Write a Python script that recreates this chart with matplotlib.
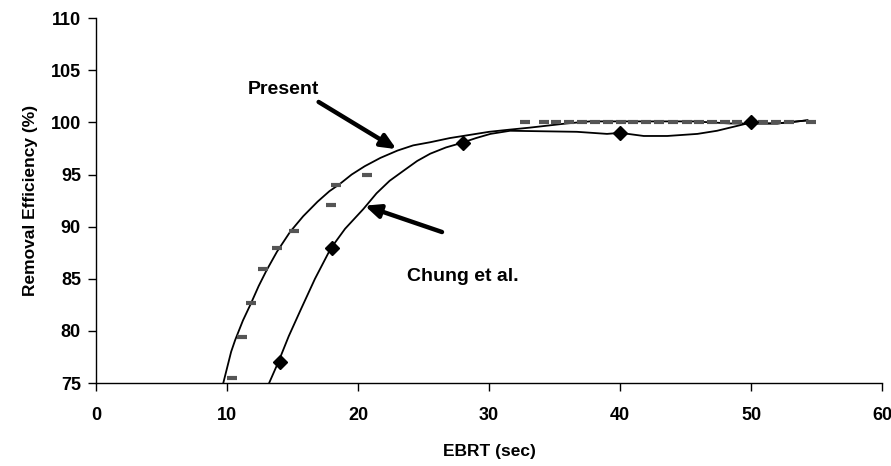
import matplotlib.pyplot as plt
import numpy as np

plt.rcParams['font.family'] = ['Liberation Sans', 'DejaVu Sans']

# experimental data (present study) - grey dashes
exp_x = [10.4, 11.1, 11.8, 12.7, 13.8, 15.1, 17.9, 18.3, 20.7,
         32.7, 34.2, 35.1, 36.1, 37.1, 38.1, 39.1, 40.1, 41.0, 42.0, 43.0,
         44.0, 45.1, 46.0, 47.0, 48.0, 48.9, 50.0, 50.9, 51.9, 52.9, 54.6]
exp_y = [75.5, 79.4, 82.7, 85.9, 88.0, 89.6, 92.1, 94.0, 95.0] + [100.0] * 22

# Chung et al. data - diamonds
chung_x = [14, 18, 28, 40, 50]
chung_y = [77, 88, 98, 99, 100]

# model curves
present_x = [9.7, 10.0, 10.3, 10.6, 11.2, 11.8, 12.4, 13.0, 13.8, 14.8, 15.8,
             16.9, 17.8, 18.6, 19.5, 20.5, 21.7, 23.0, 24.2, 25.5, 27.0, 28.5,
             30.0, 31.5, 33.1, 34.5, 35.9, 37.7, 45.6, 48.4, 50.0, 52.0, 54.3]
present_y = [75.0, 76.5, 78.0, 79.1, 81.0, 82.6, 84.3, 85.8, 87.6, 89.5, 91.0,
             92.4, 93.4, 94.1, 95.0, 95.8, 96.6, 97.3, 97.8, 98.1, 98.5, 98.8,
             99.1, 99.3, 99.5, 99.7, 99.9, 100.1, 100.1, 99.9, 99.9, 99.9, 100.2]

chung_line_x = [13.2, 13.9, 14.7, 15.6, 16.7, 17.9, 19.0, 20.4, 21.4, 22.4, 23.5,
                24.5, 25.5, 26.7, 27.8, 29.0, 30.1, 31.6, 36.7, 39.0, 40.0, 41.8,
                43.6, 45.9, 47.4, 49.7, 52.0, 54.3]
chung_line_y = [75.0, 77.0, 79.5, 82.0, 85.0, 87.9, 89.8, 91.7, 93.2, 94.4, 95.4,
                96.3, 97.0, 97.6, 98.0, 98.5, 98.9, 99.2, 99.1, 98.9, 99.0, 98.7,
                98.7, 98.9, 99.2, 99.9, 99.9, 100.2]

fig = plt.figure(figsize=(8.91, 4.66), dpi=100)
ax = fig.add_axes([0.108, 0.178, 0.882, 0.783])

ax.plot(present_x, present_y, color='black', lw=1.3, zorder=2)
ax.plot(chung_line_x, chung_line_y, color='black', lw=1.3, zorder=2)
ax.plot(exp_x, exp_y, ls='none', marker='_', ms=7, mew=3, color='#555555', zorder=3)
ax.plot(chung_x, chung_y, ls='none', marker='D', ms=7, color='black', zorder=4)

ax.set_xlim(0, 60)
ax.set_ylim(75, 110)
ax.set_xticks(np.arange(0, 61, 10))
ax.set_yticks(np.arange(75, 111, 5))

for s in ['top', 'right']:
    ax.spines[s].set_visible(False)
for s in ['left', 'bottom']:
    ax.spines[s].set_linewidth(1.0)

ax.tick_params(direction='out', length=6, width=1, labelsize=13, pad=5)
for lbl in ax.get_xticklabels() + ax.get_yticklabels():
    lbl.set_fontweight('bold')
ax.tick_params(axis='x', pad=11)

ax.set_xlabel('EBRT (sec)', fontsize=12.5, fontweight='bold', labelpad=15)
ax.set_ylabel('Removal Efficiency (%)', fontsize=12.5, fontweight='bold', labelpad=9)

arrow = dict(arrowstyle='-|>,head_width=0.4,head_length=0.9', color='black', lw=3.2)
ax.annotate('', xy=(23.1, 97.3), xytext=(16.8, 102.1), arrowprops=arrow)
ax.text(14.3, 103.2, 'Present', fontsize=14, fontweight='bold', ha='center', va='center')
ax.annotate('', xy=(20.3, 92.1), xytext=(26.6, 89.4), arrowprops=arrow)
ax.text(28.0, 85.2, 'Chung et al.', fontsize=14, fontweight='bold', ha='center', va='center')

fig.savefig('out.png', dpi=100)
